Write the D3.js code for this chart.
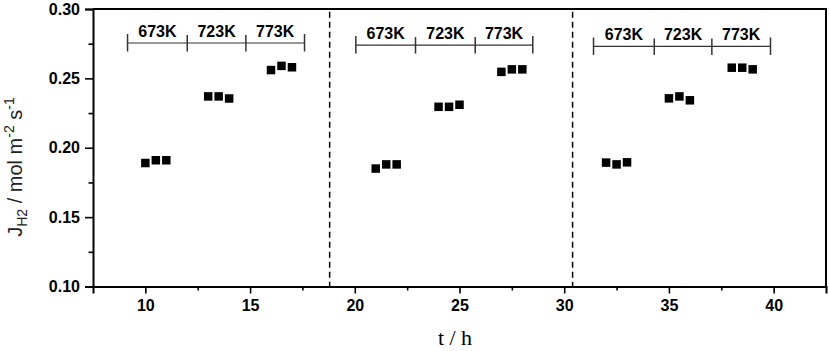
<!DOCTYPE html>
<html>
<head>
<meta charset="utf-8">
<script src="https://cdn.jsdelivr.net/npm/d3@7"></script>
<style>
  body { margin: 0; background: #fff; }
  text { font-family: "Liberation Sans", Arial, sans-serif; }
</style>
</head>
<body>
<div id="chart-area"></div>
<script>
// data
var times = [10, 10.5, 11, 13, 13.5, 14, 16, 16.5, 17,
             21, 21.5, 22, 24, 24.5, 25, 27, 27.5, 28,
             32, 32.5, 33, 35, 35.5, 36, 38, 38.5, 39];
var flux = [0.189, 0.191, 0.191, 0.237, 0.237, 0.2355, 0.256, 0.259, 0.258,
            0.185, 0.188, 0.188, 0.2295, 0.2295, 0.231, 0.2547, 0.2565, 0.2565,
            0.1893, 0.188, 0.1895, 0.2356, 0.237, 0.2342, 0.2577, 0.2577, 0.2565];
var dividers = [18.8, 30.4];
var tempLabels = ["673K", "723K", "773K"];
var bracketEdges = [[9.15, 12.0, 14.8, 17.6],
                    [20.05, 22.9, 25.75, 28.5],
                    [31.4, 34.3, 37.05, 39.85]];
var bracketLevel = [0.2755, 0.274, 0.273];
var xTicks = [10, 15, 20, 25, 30, 35, 40];
var xMinor = [12.5, 17.5, 22.5, 27.5, 32.5, 37.5];
var yTicks = [0.10, 0.15, 0.20, 0.25, 0.30];
var yMinor = [0.125, 0.175, 0.225, 0.275];

var width = 829;
var height = 351;
var margin = { left: 93, right: 3, top: 9, bottom: 64.5 };

var svg = d3.select("#chart-area").append("svg")
    .attr("width", width)
    .attr("height", height);

var x = d3.scaleLinear()
    .domain([7.5, 42.5])
    .range([margin.left, width - margin.right]);

var y = d3.scaleLinear()
    .domain([0.10, 0.30])
    .range([height - margin.bottom, margin.top]);

// frame (top and right)
svg.append("path")
    .attr("d", "M" + x(7.5) + "," + y(0.30) + "H" + x(42.5) + "V" + y(0.10))
    .attr("fill", "none")
    .attr("stroke", "#000")
    .attr("stroke-width", 2);

// x axis
var xAxisCall = d3.axisBottom(x)
    .tickValues(xTicks)
    .tickSize(7)
    .tickPadding(6)
    .tickFormat(d3.format("d"));
var xAxis = svg.append("g")
    .attr("class", "x axis")
    .attr("transform", "translate(0, " + y(0.10) + ")")
    .call(xAxisCall);

svg.append("g")
    .attr("transform", "translate(0, " + y(0.10) + ")")
    .call(d3.axisBottom(x).tickValues(xMinor).tickSize(4).tickFormat(""))
    .select(".domain").remove();

// y axis
var yAxisCall = d3.axisLeft(y)
    .tickValues(yTicks)
    .tickSize(8)
    .tickPadding(5)
    .tickFormat(d3.format(".2f"));
var yAxis = svg.append("g")
    .attr("class", "y axis")
    .attr("transform", "translate(" + x(7.5) + ", 0)")
    .call(yAxisCall);

svg.append("g")
    .attr("transform", "translate(" + x(7.5) + ", 0)")
    .call(d3.axisLeft(y).tickValues(yMinor).tickSize(4.5).tickFormat(""))
    .select(".domain").remove();

svg.selectAll(".domain")
    .attr("stroke", "#000")
    .attr("stroke-width", 2);
svg.selectAll(".tick line")
    .attr("stroke", "#000")
    .attr("stroke-width", 1.6);
svg.selectAll(".axis .tick text")
    .attr("fill", "#000")
    .style("font-size", "16px")
    .style("font-weight", "bold");

// dashed separators
svg.selectAll(".divider")
    .data(dividers)
    .enter()
    .append("line")
        .attr("class", "divider")
        .attr("x1", (d) => x(d))
        .attr("x2", (d) => x(d))
        .attr("y1", y(0.298))
        .attr("y2", y(0.10))
        .attr("stroke", "#000")
        .attr("stroke-width", 1.5)
        .attr("stroke-dasharray", "6,4");

// temperature brackets
bracketEdges.forEach((edges, i) => {
    var by = y(bracketLevel[i]);
    var g = svg.append("g").attr("class", "bracket");
    g.append("line")
        .attr("x1", x(edges[0]))
        .attr("x2", x(edges[edges.length - 1]))
        .attr("y1", by)
        .attr("y2", by)
        .attr("stroke", "#333")
        .attr("stroke-width", 1.2);
    g.selectAll(".edge")
        .data(edges)
        .enter()
        .append("line")
            .attr("x1", (d) => x(d))
            .attr("x2", (d) => x(d))
            .attr("y1", (d, j) => by - (j === 0 || j === edges.length - 1 ? 9 : 8))
            .attr("y2", by + 8.5)
            .attr("stroke", "#333")
            .attr("stroke-width", 1.5);
    g.selectAll("text")
        .data(tempLabels)
        .enter()
        .append("text")
            .attr("x", (d, j) => (x(edges[j]) + x(edges[j + 1])) / 2)
            .attr("y", by - 6)
            .attr("text-anchor", "middle")
            .style("font-size", "16px")
            .style("font-weight", "bold")
            .text((d) => d);
});

// data markers
var sq = 8.5;
svg.selectAll(".pt")
    .data(times)
    .enter()
    .append("rect")
        .attr("class", "pt")
        .attr("x", (d) => x(d) - sq / 2)
        .attr("y", (d, i) => y(flux[i]) - sq / 2)
        .attr("width", sq)
        .attr("height", sq)
        .attr("fill", "#000");

// x label
svg.append("text")
    .attr("x", 455)
    .attr("y", 345)
    .attr("text-anchor", "middle")
    .style("font-family", "'Liberation Serif', 'Times New Roman', serif")
    .style("font-size", "22px")
    .text("t / h");

// y label
var yl = svg.append("text")
    .attr("transform", "translate(22, 167) rotate(-90)")
    .attr("text-anchor", "middle")
    .style("font-size", "20px")
    .attr("fill", "#222");
yl.append("tspan").text("J");
yl.append("tspan").attr("dy", 5).style("font-size", "14px").text("H2");
yl.append("tspan").attr("dy", -5).text(" / mol m");
yl.append("tspan").attr("dy", -8).style("font-size", "14px").text("-2");
yl.append("tspan").attr("dy", 8).text(" s");
yl.append("tspan").attr("dy", -8).style("font-size", "14px").text("-1");
</script>
</body>
</html>
